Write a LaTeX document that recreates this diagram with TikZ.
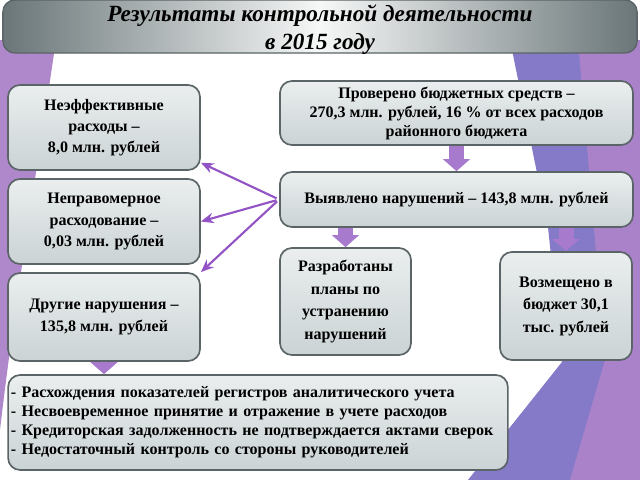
\documentclass[tikz,border=0pt]{standalone}
\usepackage{fontspec}
\setmainfont{Liberation Serif}
\usetikzlibrary{arrows.meta,calc,positioning}
\definecolor{frameline}{RGB}{91,100,102}
\definecolor{boxtop}{RGB}{234,238,238}
\definecolor{boxbot}{RGB}{203,211,213}
\definecolor{titledark}{RGB}{106,118,120}
\definecolor{titlelight}{RGB}{246,247,247}
\definecolor{arrowviolet}{RGB}{146,84,196}
\definecolor{blockviolet}{RGB}{167,122,205}
\definecolor{bgviolet}{RGB}{132,122,200}
\definecolor{bglilac}{RGB}{170,130,202}
\definecolor{bgleft}{RGB}{174,136,202}

\begin{document}
\begin{tikzpicture}[x=0.025cm, y=-0.025cm,
    infobox/.style={rectangle, rounded corners=0.3cm, draw=frameline, line width=1.2pt, top color=boxtop, bottom color=boxbot, align=center, inner sep=2pt, font=\rmfamily\bfseries\fontsize{11.4}{15}\selectfont},
    titlebar/.style={rectangle, rounded corners=0.3cm, draw=frameline, line width=1pt, left color=titledark, right color=titledark, middle color=titlelight},
    titletext/.style={align=center, font=\rmfamily\bfseries\itshape\fontsize{16.5}{19.8}\selectfont},
    thinarrow/.style={draw=arrowviolet, line width=1.5pt, -{Stealth[length=3.2mm,width=2.6mm]}, shorten <=0.07cm},
    blockarrow/.style={draw=blockviolet, line width=0.375cm, -{Triangle[width=0.68cm,length=0.3cm,line width=0pt]}}
]

\useasboundingbox (0,0) rectangle (640,480);
\fill[white] (0,0) rectangle (640,480);

% Background
\fill[bgleft] (0,40) -- (56,40) .. controls (40,150) and (15,300) .. (0,430) -- cycle;
\fill[bgviolet] (510,40) -- (640,40) -- (640,480) -- (468,480) -- (562,362) -- (548,227) -- cycle;
\fill[bglilac] (578,40) -- (640,40) -- (640,480) -- (570,480) -- (605,360) -- cycle;

% Title
\node (title) [titlebar, minimum width=15.85cm, minimum height=1.325cm] at (320,26.5) {};
\node (titlelabel) [titletext] at ($(title.center)+(0,3)$) {Результаты контрольной деятельности\\в 2015 году};

% Left column
\node (loss) [infobox, minimum width=4.8cm, minimum height=2.125cm] at (104,127.5) {Неэффективные\\расходы –\\8,0 млн. рублей};
\node (misuse) [infobox, minimum width=4.8cm, minimum height=2.125cm] at (104,221.5) {Неправомерное\\расходование –\\0,03 млн. рублей};
\node (other) [infobox, minimum width=4.8cm, minimum height=2.2cm] at (104,317) {Другие нарушения –\\135,8 млн. рублей};

% Right column
\node (checked) [infobox, minimum width=8.825cm, minimum height=1.6cm, font=\rmfamily\bfseries\fontsize{11.4}{13.5}\selectfont] at (456.5,113) {Проверено бюджетных средств –\\270,3 млн. рублей, 16 \% от всех расходов\\районного бюджета};
\node (found) [infobox, minimum width=8.825cm, minimum height=1.375cm] at (456.5,199.5) {Выявлено нарушений – 143,8 млн. рублей};
\node (plans) [infobox, minimum width=3.275cm, minimum height=2.675cm, font=\rmfamily\bfseries\fontsize{11.4}{16}\selectfont] at (345.5,301.5) {Разработаны\\планы по\\устранению\\нарушений};
\node (refund) [infobox, minimum width=3.3cm, minimum height=2.7cm, font=\rmfamily\bfseries\fontsize{11.4}{16}\selectfont] at (566,306) {Возмещено в\\бюджет 30,1\\тыс. рублей};

% List
\node (list) [infobox, text width=12.35cm, minimum height=2.375cm, align=left, font=\rmfamily\bfseries\fontsize{11.4}{13.5}\selectfont] at (258,422.5) {- Расхождения показателей регистров аналитического учета\\- Несвоевременное принятие и отражение в учете расходов\\- Кредиторская задолженность не подтверждается актами сверок\\- Недостаточный контроль со стороны руководителей};

% Arrows
\draw[thinarrow] (found.west) -- (loss.-20);
\draw[thinarrow] (found.west) -- (misuse.east);
\draw[thinarrow] (found.west) -- (other.north east);
\draw[blockarrow] (checked.south) -- (found.north);
\draw[blockarrow] (plans.north |- found.south) -- (plans.north);
\draw[blockarrow] (refund.north |- found.south) -- (refund.north);
\draw[blockarrow] (other.south) -- (other.south |- list.north);

\end{tikzpicture}
\end{document}
